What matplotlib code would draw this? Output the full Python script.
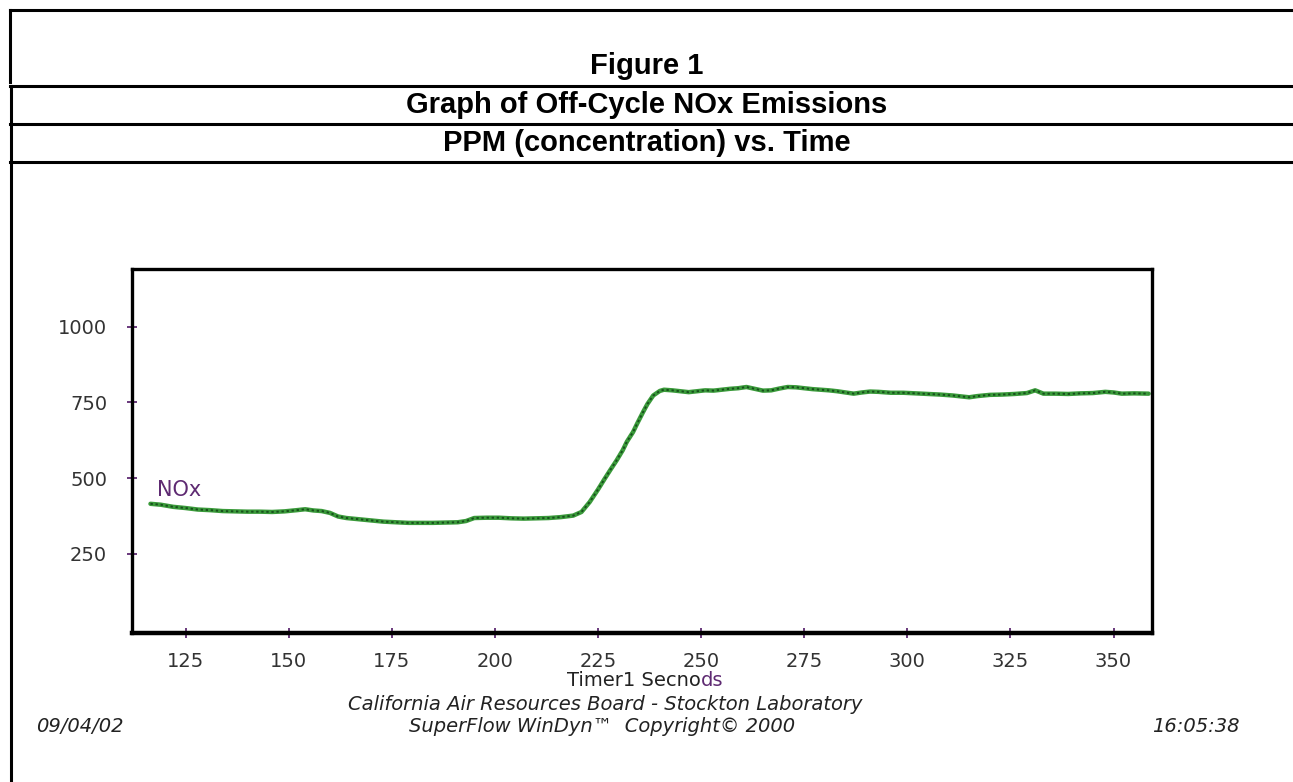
import matplotlib
matplotlib.use("Agg")
import matplotlib.pyplot as plt
from matplotlib.lines import Line2D

# NOx concentration (ppm)
time_s = [116.5, 119, 122, 125, 128, 131, 134, 137, 140, 143, 146, 149, 152, 154, 156, 158,
          160, 162, 164, 167, 170, 173, 176, 179, 182, 185, 188, 191, 193, 195, 198, 201,
          204, 207, 210, 213, 216, 219, 221, 223, 225, 226.5, 228, 229.5, 231, 232, 233.5,
          234.5, 236, 237, 238.4, 240, 241, 243, 245, 247, 249, 251, 253, 255, 257, 259,
          261, 263, 265, 267, 269, 271, 273, 275, 277, 279, 281, 283, 285, 287, 289, 291,
          293, 296, 299, 302, 305, 308, 311, 313, 315, 317, 320, 323, 326, 329, 331, 333,
          336, 339, 342, 345, 348, 350, 352, 355, 358.5]
nox_ppm = [415, 412, 405, 401, 396, 394, 391, 390, 389, 389, 388, 390, 394, 397, 393, 391,
           385, 373, 368, 364, 360, 356, 354, 352, 352, 352, 353, 354, 358, 368, 369, 369,
           367, 366, 367, 368, 371, 376, 388, 421, 462, 495, 527, 558, 592, 620, 652,
           680, 720, 745, 773, 788, 792, 790, 787, 784, 787, 790, 789, 792, 795, 797,
           801, 795, 789, 790, 796, 801, 800, 797, 794, 792, 790, 787, 783, 779, 783, 786,
           785, 782, 782, 780, 778, 776, 773, 770, 767, 771, 775, 776, 778, 781, 790, 779,
           779, 778, 780, 781, 785, 783, 779, 780, 779]

x_ticks = [125, 150, 175, 200, 225, 250, 275, 300, 325, 350]
y_ticks = [250, 500, 750, 1000]

W, H = 1293, 782
purple = "#5e2a72"


def fx(px):
    return px / W


def fy(py):
    return 1 - py / H


fig = plt.figure(figsize=(W / 100, H / 100), dpi=100)
fig.patch.set_facecolor("white")

# table frame around the figure heading
for y in [10, 86, 123.5, 161.5]:
    fig.add_artist(Line2D([fx(10), 1.0], [fy(y), fy(y)], color="black", lw=2.2,
                          transform=fig.transFigure))
fig.add_artist(Line2D([fx(10), fx(10)], [fy(10), fy(82)], color="black", lw=2.2,
                      transform=fig.transFigure))
fig.add_artist(Line2D([fx(11), fx(11)], [fy(86), 0.0], color="black", lw=2.2,
                      transform=fig.transFigure))

title_font = dict(family="Liberation Sans", weight="bold", fontsize=21, ha="center", va="center")
fig.text(fx(647), fy(66), "Figure 1", **title_font)
fig.text(fx(647), fy(105), "Graph of Off-Cycle NOx Emissions", **title_font)
fig.text(fx(647), fy(143), "PPM (concentration) vs. Time", **title_font)

# chart area
ax = fig.add_axes([fx(131.5), fy(633), fx(1152.3) - fx(131.5), (633 - 269) / H])
ax.plot(time_s, nox_ppm, color="#3a9a3a", lw=3.2, solid_capstyle="round")
ax.plot(time_s, nox_ppm, color="#17501c", lw=1.4, ls=(0, (1.2, 1.4)))
ax.set_xlim(111.9, 359.4)
ax.set_ylim(-12, 1191)
ax.set_xticks(x_ticks)
ax.set_yticks(y_ticks)
for side in ["top", "left", "right"]:
    ax.spines[side].set_linewidth(2.4)
ax.spines["bottom"].set_linewidth(3.2)
ax.tick_params(direction="inout", length=7, width=1.3, color=purple,
               labelsize=14, labelcolor="#333333")
ax.tick_params(axis="y", pad=14)
ax.tick_params(axis="x", pad=10)

ax.text(118, 462, "NOx", color=purple, fontsize=15, ha="left", va="center")

# axis caption and footer
fig.text(fx(701), fy(681), "Timer1 Secno", fontsize=14, color="#222222", ha="right", va="center")
fig.text(fx(701), fy(681), "ds", fontsize=14, color=purple, ha="left", va="center")
foot = dict(fontsize=14, style="italic", color="#222222", va="center")
fig.text(fx(605), fy(705), "California Air Resources Board - Stockton Laboratory", ha="center", **foot)
fig.text(fx(602), fy(727), "SuperFlow WinDyn\u2122  Copyright\u00a9 2000", ha="center", **foot)
fig.text(fx(36), fy(727), "09/04/02", ha="left", **foot)
fig.text(fx(1240), fy(727), "16:05:38", ha="right", **foot)

fig.savefig("out.png", dpi=100)
